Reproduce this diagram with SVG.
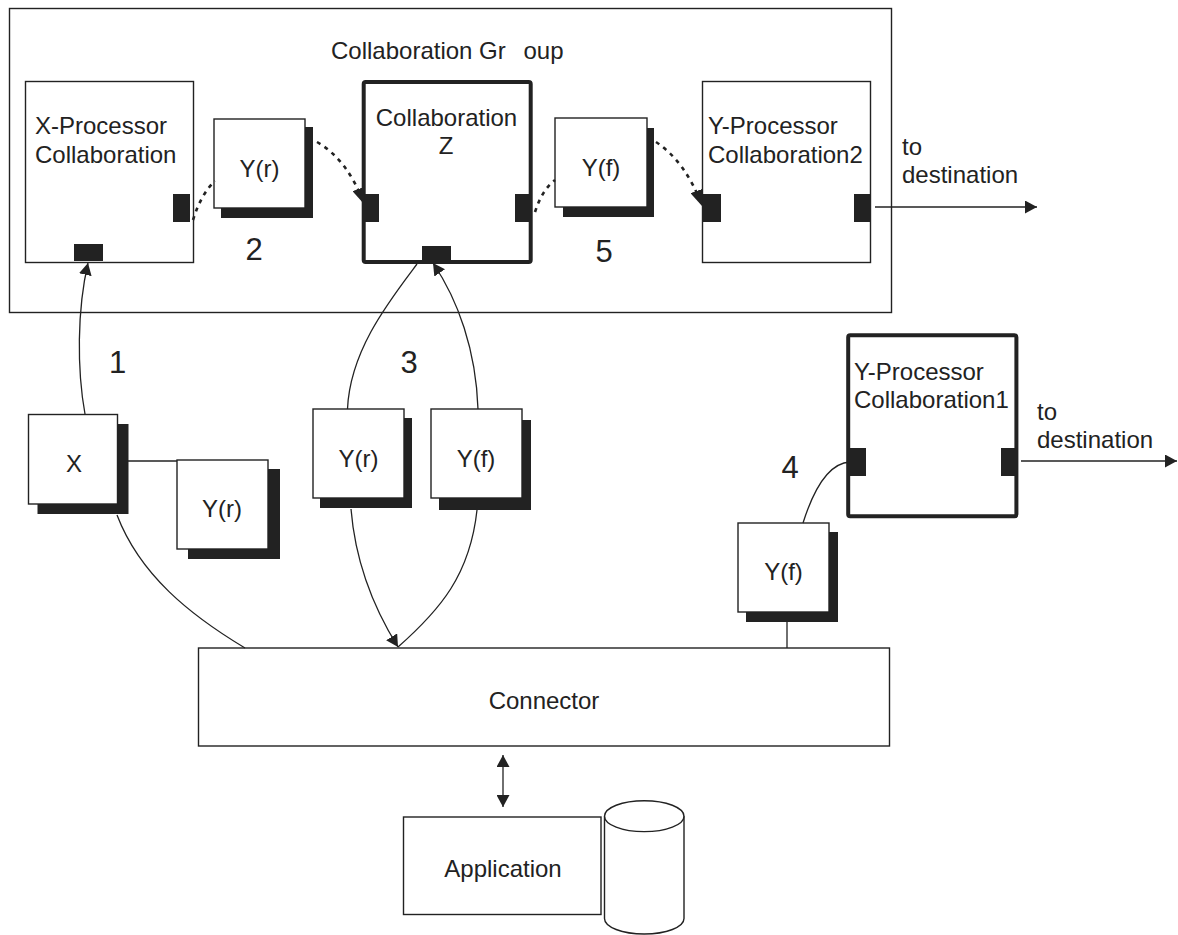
<svg xmlns="http://www.w3.org/2000/svg" width="1178" height="935" viewBox="0 0 1178 935">
<style>
text{font-family:"Liberation Sans",Arial,sans-serif;font-size:24px;fill:#222}
.c{text-anchor:middle}
.num{font-size:31px;text-anchor:middle}
.box{fill:#fff;stroke:#222;stroke-width:1.4}
.thick{fill:#fff;stroke:#222;stroke-width:4}
.sh{fill:#222}
.port{fill:#222}
.ln{fill:none;stroke:#222;stroke-width:1.3}
.dot{fill:none;stroke:#222;stroke-width:2.6;stroke-dasharray:4 5}
</style>
<defs>
<marker id="arr" viewBox="0 0 12 13" refX="12" refY="6.5" markerWidth="12" markerHeight="13" markerUnits="userSpaceOnUse" orient="auto-start-reverse"><path d="M0,0 L12,6.5 L0,13 z" fill="#222"/></marker>
<marker id="arrB" viewBox="0 0 16 13" refX="16" refY="6.5" markerWidth="16" markerHeight="13" markerUnits="userSpaceOnUse" orient="auto"><path d="M0,0 L16,6.5 L0,13 z" fill="#222"/></marker>
</defs>

<g id="group">
<rect x="9.5" y="8.5" width="882" height="304" fill="none" stroke="#222" stroke-width="1.4"/>
<text x="331" y="59">Collaboration Gr <tspan x="523.5">oup</tspan></text>
</g>

<g id="xproc">
<rect class="box" x="25.5" y="81.5" width="168" height="181"/>
<text x="35" y="134">X-Processor</text>
<text x="35" y="163">Collaboration</text>
<rect class="port" x="173" y="194" width="17" height="28"/>
<rect class="port" x="74" y="244" width="29" height="17"/>
</g>

<g id="yr-top">
<rect class="sh" x="221" y="127" width="92" height="91"/>
<rect class="box" x="214" y="119" width="91" height="89"/>
<text class="c" x="259.5" y="177">Y(r)</text>
</g>

<g id="collabz">
<rect class="thick" x="363.7" y="82" width="167" height="180" rx="2"/>
<text class="c" x="446.5" y="126">Collaboration</text>
<text class="c" x="446" y="154">Z</text>
<rect class="port" x="362" y="194" width="17" height="28"/>
<rect class="port" x="515" y="194" width="17" height="28"/>
<rect class="port" x="422" y="246" width="29" height="16"/>
</g>

<g id="yf-top">
<rect class="sh" x="563" y="128" width="91" height="89"/>
<rect class="box" x="555" y="118" width="92" height="89"/>
<text class="c" x="601" y="176">Y(f)</text>
</g>

<g id="yproc2">
<rect class="box" x="702.5" y="81.5" width="168" height="181"/>
<text x="708" y="134">Y-Processor</text>
<text x="708" y="163">Collaboration2</text>
<rect class="port" x="703" y="194" width="18" height="28"/>
<rect class="port" x="854" y="194" width="17" height="28"/>
</g>
<text x="902" y="155">to</text>
<text x="902" y="183">destination</text>

<g id="x">
<rect class="sh" x="37.5" y="424" width="91" height="90"/>
<rect class="box" x="28.5" y="414.5" width="89" height="89.5"/>
<text class="c" x="74" y="472">X</text>
</g>

<g id="yr-left">
<rect class="sh" x="188" y="469" width="92" height="90"/>
<rect class="box" x="177" y="460" width="91" height="89"/>
<text class="c" x="222" y="517">Y(r)</text>
</g>

<g id="yr-mid">
<rect class="sh" x="320" y="418" width="92" height="90"/>
<rect class="box" x="313" y="409" width="91" height="89"/>
<text class="c" x="358.5" y="467">Y(r)</text>
</g>

<g id="yf-mid">
<rect class="sh" x="439" y="420" width="92" height="90"/>
<rect class="box" x="431" y="409" width="91" height="89"/>
<text class="c" x="476" y="467">Y(f)</text>
</g>

<g id="yproc1">
<rect class="thick" x="848.2" y="335.3" width="168.2" height="181" rx="2"/>
<text x="854" y="380">Y-Processor</text>
<text x="854" y="408">Collaboration1</text>
<rect class="port" x="850" y="448" width="16" height="28"/>
<rect class="port" x="1001" y="448" width="16" height="28"/>
</g>
<text x="1037" y="420">to</text>
<text x="1037" y="448">destination</text>

<g id="yf-right">
<rect class="sh" x="746" y="532" width="92" height="90"/>
<rect class="box" x="738" y="523" width="91" height="89"/>
<text class="c" x="783.5" y="580">Y(f)</text>
</g>

<g id="connector">
<rect class="box" x="198.5" y="648" width="691" height="98"/>
<text class="c" x="544" y="709">Connector</text>
</g>

<g id="application">
<rect class="box" x="403.5" y="817" width="197.5" height="97.5"/>
<text class="c" x="503" y="877">Application</text>
</g>

<g id="database">
<path class="box" d="M604.5,816.2 L604.5,918.5 A39.7,15.5 0 0 0 684,918.5 L684,816.2 A39.7,15.5 0 0 0 604.5,816.2 z"/>
<path class="ln" d="M604.5,816.2 A39.7,15.5 0 0 0 684,816.2"/>
</g>

<g id="labels">
<text class="num" x="254" y="260">2</text>
<text class="num" x="604" y="262">5</text>
<text class="num" x="117.5" y="373">1</text>
<text class="num" x="409" y="373">3</text>
<text class="num" x="790" y="478">4</text>
</g>

<g id="connectors">
<path class="dot" d="M193,220 Q201,194 215,181"/>
<path class="dot" d="M317,142 Q348,160 364,204" marker-end="url(#arrB)"/>
<path class="dot" d="M535,212 Q542,190 555,180"/>
<path class="dot" d="M656,142 Q686,162 702,206" marker-end="url(#arrB)"/>
<path class="ln" d="M875,207 L1037,207" marker-end="url(#arr)"/>
<path class="ln" d="M1021,461 L1177,461" marker-end="url(#arr)"/>
<path class="ln" d="M85,414 C77,370 77,310 88,263" marker-end="url(#arr)"/>
<path class="ln" d="M417,264 C390,300 350,350 347.5,409"/>
<path class="ln" d="M478,409 C476,350 458,300 433,263" marker-end="url(#arr)"/>
<path class="ln" d="M351,509 C356,570 378,615 398,647" marker-end="url(#arr)"/>
<path class="ln" d="M477,510 C470,575 440,610 398,647"/>
<path class="ln" d="M117,515 C140,575 190,615 245,648"/>
<path class="ln" d="M128,461 L177,461"/>
<path class="ln" d="M787,622 L787,648"/>
<path class="ln" d="M803,523 C815,485 830,463 850,462"/>
<path class="ln" d="M503,755 L503,807" marker-start="url(#arr)" marker-end="url(#arr)"/>
</g>
</svg>
